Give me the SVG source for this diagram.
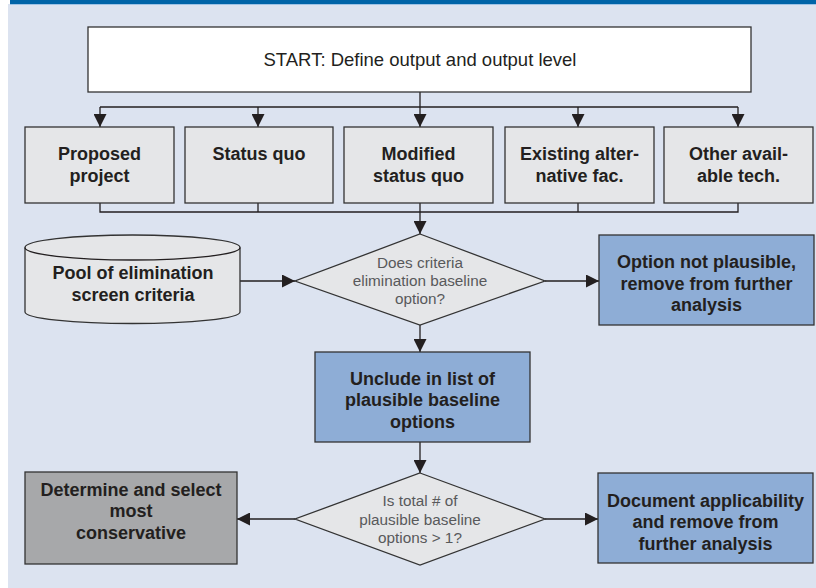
<svg xmlns="http://www.w3.org/2000/svg" width="816" height="588" viewBox="0 0 816 588">
<defs>
<marker id="ah" viewBox="0 0 10 10" refX="10" refY="5" markerWidth="13" markerHeight="13" markerUnits="userSpaceOnUse" orient="auto">
<path d="M0,0 L10,5 L0,10 z" fill="#231f20"/>
</marker>
<style>
.bg{fill:#dce3f0}
.box{stroke:#333;stroke-width:1.3}
.w{fill:#ffffff}
.g{fill:#e5e6e8}
.b{fill:#8eadd6}
.d{fill:#a7a8aa}
.t{font-family:"Liberation Sans",Arial,sans-serif;font-weight:bold;font-size:18px;fill:#231f20;text-anchor:middle}
.r{font-family:"Liberation Sans",Arial,sans-serif;font-size:15.3px;fill:#58595b;text-anchor:middle}
.s{font-family:"Liberation Sans",Arial,sans-serif;font-size:18.5px;fill:#231f20;text-anchor:middle}
.c{fill:none;stroke:#231f20;stroke-width:1.3}
</style>
</defs>
<rect x="0" y="0" width="816" height="588" fill="#ffffff"/>
<rect class="bg" x="8" y="4" width="808" height="584"/>
<rect x="10" y="0" width="806" height="4" fill="#0064a8"/>
<rect x="10" y="4" width="806" height="1" fill="#9fc3e6"/>

<g id="connectors">
<path class="c" d="M420,92 V107"/>
<path class="c" d="M100,107 H738"/>
<path class="c" d="M100,107 V127" marker-end="url(#ah)"/>
<path class="c" d="M258,107 V127" marker-end="url(#ah)"/>
<path class="c" d="M420,107 V127" marker-end="url(#ah)"/>
<path class="c" d="M578,107 V127" marker-end="url(#ah)"/>
<path class="c" d="M738,107 V127" marker-end="url(#ah)"/>
<path class="c" d="M100,203 V212 H738 V203"/>
<path class="c" d="M258,203 V212"/>
<path class="c" d="M578,203 V212"/>
<path class="c" d="M420,203 V234" marker-end="url(#ah)"/>
<path class="c" d="M240,281 H295" marker-end="url(#ah)"/>
<path class="c" d="M545,281 H599" marker-end="url(#ah)"/>
<path class="c" d="M420,325 V352" marker-end="url(#ah)"/>
<path class="c" d="M420,442 V473" marker-end="url(#ah)"/>
<path class="c" d="M295,519 H237" marker-end="url(#ah)"/>
<path class="c" d="M545,519 H598" marker-end="url(#ah)"/>
</g>

<g id="start">
<rect class="box w" x="88" y="27" width="663" height="65"/>
<text class="s" x="420" y="66">START: Define output and output level</text>
</g>

<g id="proposed">
<rect class="box g" x="25" y="127" width="149" height="76"/>
<text class="t" x="99.5" y="160">Proposed</text>
<text class="t" x="99.5" y="182">project</text>
</g>
<g id="statusquo">
<rect class="box g" x="185" y="127" width="148" height="76"/>
<text class="t" x="259" y="160">Status quo</text>
</g>
<g id="modified">
<rect class="box g" x="344" y="127" width="149" height="76"/>
<text class="t" x="418.5" y="160">Modified</text>
<text class="t" x="418.5" y="182">status quo</text>
</g>
<g id="existing">
<rect class="box g" x="505" y="127" width="149" height="76"/>
<text class="t" x="579.5" y="160">Existing alter-</text>
<text class="t" x="579.5" y="182">native fac.</text>
</g>
<g id="other">
<rect class="box g" x="664" y="127" width="149" height="76"/>
<text class="t" x="738.5" y="160">Other avail-</text>
<text class="t" x="738.5" y="182">able tech.</text>
</g>

<g id="pool">
<path class="box g" d="M25,247.5 V312 A107.5,11.5 0 0 0 240,312 V247.5 A107.5,12.5 0 0 0 25,247.5 Z"/>
<path class="c" d="M25,247.5 A107.5,12.5 0 0 0 240,247.5"/>
<text class="t" x="133" y="279">Pool of elimination</text>
<text class="t" x="133" y="301">screen criteria</text>
</g>

<g id="decision1">
<polygon class="box g" points="420,234 545,281 420,325 295,281"/>
<text class="r" x="420" y="267.5">Does criteria</text>
<text class="r" x="420" y="285.5">elimination baseline</text>
<text class="r" x="420" y="304">option?</text>
</g>

<g id="notplausible">
<rect class="box b" x="599" y="235" width="215" height="90"/>
<text class="t" x="706.5" y="268">Option not plausible,</text>
<text class="t" x="706.5" y="289.5">remove from further</text>
<text class="t" x="706.5" y="310.5">analysis</text>
</g>

<g id="include">
<rect class="box b" x="315" y="352" width="215" height="90"/>
<text class="t" x="422.5" y="384.5">Unclude in list of</text>
<text class="t" x="422.5" y="406">plausible baseline</text>
<text class="t" x="422.5" y="427.5">options</text>
</g>

<g id="decision2">
<polygon class="box g" points="420,473 545,519 420,565 295,519"/>
<text class="r" x="420" y="506">Is total # of</text>
<text class="r" x="420" y="524.5">plausible baseline</text>
<text class="r" x="420" y="543">options &gt; 1?</text>
</g>

<g id="conservative">
<rect class="box d" x="25" y="472" width="212" height="92"/>
<text class="t" x="131" y="495.5">Determine and select</text>
<text class="t" x="131" y="517">most</text>
<text class="t" x="131" y="538.5">conservative</text>
</g>

<g id="document">
<rect class="box b" x="598" y="473" width="215" height="90"/>
<text class="t" x="705.5" y="506.5">Document applicability</text>
<text class="t" x="705.5" y="528">and remove from</text>
<text class="t" x="705.5" y="549.5">further analysis</text>
</g>
</svg>
